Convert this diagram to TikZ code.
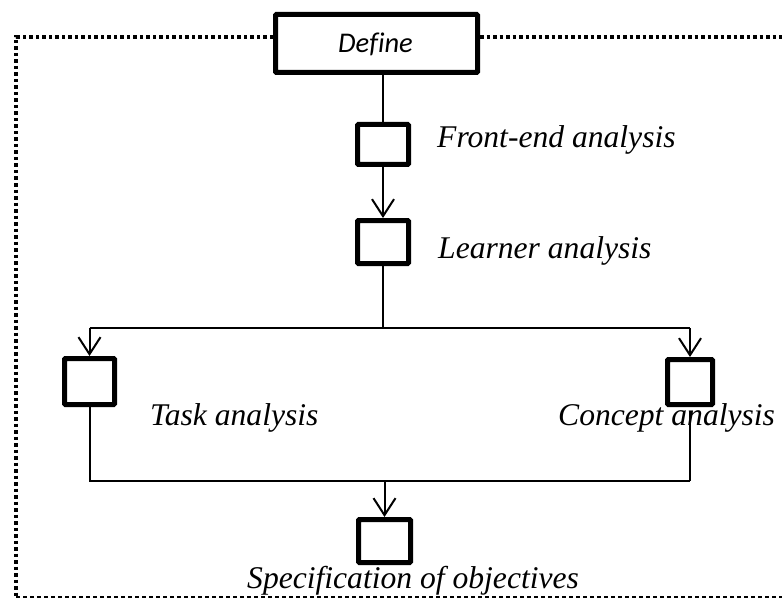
\documentclass[tikz,border=0pt]{standalone}
\usepackage{fontspec}
\setmainfont{Liberation Serif}
\newfontfamily\calib[Ligatures=NoCommon]{Carlito}
\usetikzlibrary{arrows.meta}
\tikzset{
  stagebox/.style={draw, line width=5pt, rounded corners=1pt, inner sep=0pt, fill=white},
  conn/.style={line width=2pt},
  arr/.style={line width=2pt, -{Straight Barb[length=17pt,width=22pt,line width=2pt]}},
  lab/.style={anchor=base west, inner sep=0pt, font=\fontsize{31.6}{36}\selectfont\itshape},
  dotframe/.style={line width=3.5pt, dash pattern=on 3.5pt off 3pt},
  dashframe/.style={line width=1.2pt, dash pattern=on 4pt off 3pt}
}
\begin{document}
\begin{tikzpicture}[x=1pt,y=-1pt]
\useasboundingbox (0,0) rectangle (782,599);
% stage boxes
\node[stagebox, minimum width=202pt, minimum height=58pt] (def) at (376.5,43.5) {};
\node[anchor=base west, inner sep=0pt, font=\fontsize{28.5}{32}\selectfont\calib\itshape] (deflab) at (338,53) {Define};
\node[stagebox, minimum width=51pt, minimum height=40pt] (fe) at (383,144.5) {};
\node[stagebox, minimum width=51pt, minimum height=43pt] (la) at (383,242) {};
\node[stagebox, minimum width=50pt, minimum height=46pt] (ta) at (89.5,381.5) {};
\node[stagebox, minimum width=45pt, minimum height=45pt] (ca) at (690,382) {};
\node[stagebox, minimum width=52pt, minimum height=43pt] (so) at (384.5,541) {};
% labels
\node[lab] (felab) at (437,148) {Front-end analysis};
\node[lab] (lalab) at (438,258) {Learner analysis};
\node[lab] (talab) at (150,425) {Task analysis};
\node[lab] (calab) at (558,425) {Concept analysis};
\node[lab] (solab) at (247,588) {Specification of objectives};
% helper coordinates
\coordinate (split) at (383,328);
\coordinate (splitL) at (89.5,328);
\coordinate (splitR) at (690,328);
\coordinate (joinL) at (89.5,481);
\coordinate (joinR) at (690,481);
\coordinate (join) at (384.5,481);
% connectors
\draw[conn] (def.south -| fe.north) -- (fe.north);
\draw[arr] (fe.south) -- (la.north);
\draw[conn] (la.south) -- (split);
\draw[conn] (splitL) -- (splitR);
\draw[arr] (splitL) -- (ta.north);
\draw[arr] (splitR) -- (ca.north);
\draw[conn] (ta.south) -- (joinL) -- (joinR);
\draw[conn] ([yshift=-4pt]ca.south) -- (joinR);
\draw[arr] (join) -- (so.north);
% frame
\coordinate (ftl) at (16,37);
\coordinate (fbl) at (16,597);
\coordinate (ftr) at (782,37);
\coordinate (fbr) at (782,597);
\draw[dotframe] (def.west |- ftl) -- (ftl) -- (fbl);
\draw[dotframe] (def.east |- ftr) -- (ftr);
\draw[dashframe] (fbl) -- (fbr);
\end{tikzpicture}
\end{document}
